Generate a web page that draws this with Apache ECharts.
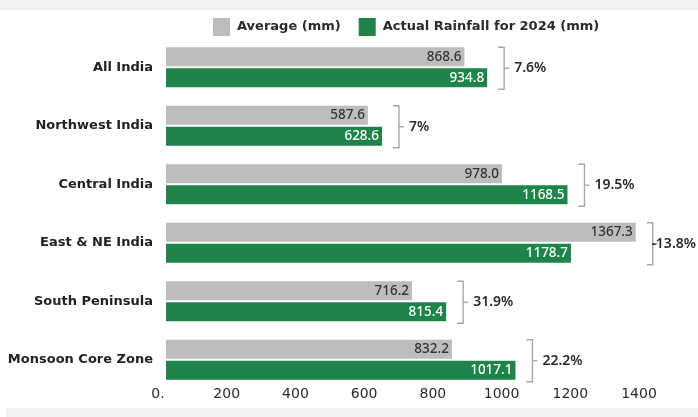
<!DOCTYPE html>
<html>
<head>
<meta charset="utf-8">
<script src="https://cdn.jsdelivr.net/npm/echarts@6/dist/echarts.min.js"></script>
<style>
  html, body { margin: 0; padding: 0; background: #ffffff; }
  #chart { width: 698px; height: 417px; }
</style>
</head>
<body>
<div id="chart"></div>
<script>
// Monsoon rainfall by region: long-period average vs 2024 actual (mm)
const regions = ['All India', 'Northwest India', 'Central India', 'East & NE India', 'South Peninsula', 'Monsoon Core Zone'];
const averageMm = [868.6, 587.6, 978.0, 1367.3, 716.2, 832.2];
const actual2024Mm = [934.8, 628.6, 1168.5, 1178.7, 815.4, 1017.1];
const departureLabels = ['7.6%', '7%', '19.5%', '-13.8%', '31.9%', '22.2%'];
const xTickLabels = ['0.', '200', '400', '600', '800', '1000', '1200', '1400'];

const FONT = '"DejaVu Sans", "Noto Sans", sans-serif';
const NUM_FONT = '"Noto Sans", "Open Sans", sans-serif';
const GREY = '#bdbdbd';
const GREEN = '#1f8449';
const PCT_FONT = '600 14px ' + NUM_FONT;

const chart = echarts.init(document.getElementById('chart'), null, { renderer: 'canvas' });

// text measuring, used to keep the departure labels inside the canvas
const measureCtx = document.createElement('canvas').getContext('2d');
function textWidth(text, font) {
  measureCtx.font = font;
  return measureCtx.measureText(text).width;
}

// bracket rows: [average, actual, row index]
const bracketData = regions.map((r, i) => [averageMm[i], actual2024Mm[i], i]);

function renderBracket(params, api) {
  const avg = api.value(0);
  const act = api.value(1);
  const idx = api.value(2);
  const end = api.coord([Math.max(avg, act), idx]);
  const x = end[0] + 17;
  const cy = end[1] + 1;
  const half = 21;
  const arm = 6;
  const lineStyle = { stroke: '#a8a8a8', lineWidth: 1.4, fill: null };
  const label = departureLabels[idx];
  const w = textWidth(label, PCT_FONT);
  const labelX = Math.min(x + 10, api.getWidth() - w - 2);
  return {
    type: 'group',
    children: [
      {
        type: 'polyline',
        shape: { points: [[x - arm, cy - half], [x, cy - half], [x, cy + half], [x - arm, cy + half]] },
        style: lineStyle
      },
      {
        type: 'line',
        shape: { x1: x, y1: cy, x2: x + 5, y2: cy },
        style: lineStyle
      },
      {
        type: 'text',
        style: {
          x: labelX,
          y: cy,
          text: label,
          fill: '#2b2b2b',
          font: PCT_FONT,
          verticalAlign: 'middle',
          align: 'left'
        }
      }
    ]
  };
}

chart.setOption({
  backgroundColor: '#ffffff',
  animation: false,
  graphic: [
    { type: 'rect', shape: { x: 0, y: 0, width: 698, height: 10 }, style: { fill: '#f2f2f1' }, silent: true },
    { type: 'rect', shape: { x: 6, y: 408, width: 692, height: 9 }, style: { fill: '#f2f2f1' }, silent: true }
  ],
  legend: {
    left: 208,
    top: 13,
    itemWidth: 17,
    itemHeight: 18,
    itemGap: 18,
    icon: 'rect',
    data: ['Average (mm)', 'Actual Rainfall for 2024 (mm)'],
    textStyle: { fontFamily: FONT, fontSize: 13, fontWeight: 'bold', color: '#2b2b2b', padding: [0, 0, 0, 2] }
  },
  grid: { left: 166, right: 51, top: 38, bottom: 28, containLabel: false },
  xAxis: {
    type: 'value',
    min: 0,
    max: 1400,
    interval: 200,
    axisLine: { show: false },
    axisTick: { show: false },
    splitLine: { show: false },
    axisLabel: {
      margin: -2,
      fontFamily: FONT,
      fontSize: 14,
      color: '#2b2b2b',
      padding: [0, 16, 0, 0],
      formatter: (v) => xTickLabels[Math.round(v / 200)]
    }
  },
  yAxis: {
    type: 'category',
    inverse: true,
    data: regions,
    axisLine: { show: false },
    axisTick: { show: false },
    axisLabel: { margin: 13, fontFamily: FONT, fontSize: 13, fontWeight: 'bold', color: '#222222' }
  },
  series: [
    {
      name: 'Average (mm)',
      type: 'bar',
      data: averageMm,
      barWidth: 19,
      barGap: '10%',
      itemStyle: { color: GREY },
      label: {
        show: true,
        position: 'insideRight',
        distance: 3,
        formatter: (p) => p.value.toFixed(1),
        fontFamily: NUM_FONT,
        fontSize: 13.5,
        fontWeight: 500,
        color: '#333333'
      }
    },
    {
      name: 'Actual Rainfall for 2024 (mm)',
      type: 'bar',
      data: actual2024Mm,
      barWidth: 19,
      barGap: '10%',
      itemStyle: { color: GREEN },
      label: {
        show: true,
        position: 'insideRight',
        distance: 3,
        formatter: (p) => p.value.toFixed(1),
        fontFamily: NUM_FONT,
        fontSize: 13.5,
        fontWeight: 500,
        color: '#ffffff'
      }
    },
    {
      name: 'departure',
      type: 'custom',
      renderItem: renderBracket,
      data: bracketData,
      encode: { x: [0, 1], y: 2 },
      silent: true,
      z: 5
    }
  ]
});
</script>
</body>
</html>
